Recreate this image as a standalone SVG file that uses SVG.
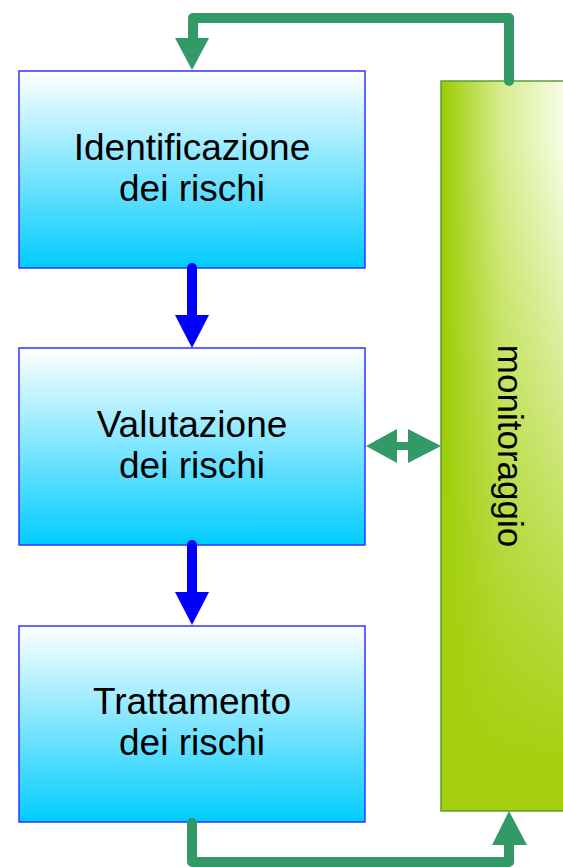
<svg xmlns="http://www.w3.org/2000/svg" width="563" height="867" viewBox="0 0 563 867">
<defs>
<linearGradient id="gBlue" x1="0" y1="0" x2="0" y2="1">
<stop offset="0" stop-color="#ffffff"/>
<stop offset="1" stop-color="#00ccff"/>
</linearGradient>
<linearGradient id="gGreenH" x1="0" y1="0" x2="1" y2="0">
<stop offset="0" stop-color="#99cc00"/>
<stop offset="0.45" stop-color="#d6ec8c"/>
<stop offset="1" stop-color="#fbfff0"/>
</linearGradient>
<linearGradient id="gGreenV" x1="0" y1="0" x2="0" y2="1">
<stop offset="0" stop-color="#a3cf0c" stop-opacity="0"/>
<stop offset="0.08" stop-color="#a3cf0c" stop-opacity="0"/>
<stop offset="0.95" stop-color="#a3cf0c" stop-opacity="1"/>
</linearGradient>
</defs>
<style>
.box { fill: url(#gBlue); stroke: #3333ff; stroke-width: 1.5; }
.lbl { font-family: "Liberation Sans", Arial, sans-serif; font-size: 37px; fill: #000000; text-anchor: middle; }
.vlbl { font-size: 35px; }
.gline { fill: none; stroke: #339966; stroke-width: 10; stroke-linecap: round; stroke-linejoin: round; }
.bline { fill: none; stroke: #0000ff; stroke-width: 10; stroke-linecap: round; }
.ghead { fill: #339966; }
.bhead { fill: #0000ff; }
</style>

<g id="monitoraggio">
<rect x="441" y="81" width="130" height="730" fill="url(#gGreenH)"/>
<rect x="441" y="81" width="130" height="730" fill="url(#gGreenV)" stroke="#5a9e3a" stroke-width="1.5"/>
<text class="lbl vlbl" transform="translate(498,446) rotate(90)" x="0" y="0">monitoraggio</text>
</g>

<g id="identificazione">
<rect class="box" x="19" y="71" width="346" height="197"/>
<text class="lbl" x="192" y="160">Identificazione</text>
<text class="lbl" x="192" y="201">dei rischi</text>
</g>

<g id="valutazione">
<rect class="box" x="19" y="348" width="346" height="197"/>
<text class="lbl" x="192" y="437">Valutazione</text>
<text class="lbl" x="192" y="478">dei rischi</text>
</g>

<g id="trattamento">
<rect class="box" x="19" y="626" width="346" height="196"/>
<text class="lbl" x="192" y="714">Trattamento</text>
<text class="lbl" x="192" y="755">dei rischi</text>
</g>

<g id="connectors">
<line class="bline" x1="192" y1="268" x2="192" y2="316"/>
<polygon class="bhead" points="175,315 209,315 192,348"/>
<line class="bline" x1="192" y1="545" x2="192" y2="593"/>
<polygon class="bhead" points="175,592 209,592 192,625"/>
<polyline class="gline" points="509,81 509,18 193,18 193,40"/>
<polygon class="ghead" points="175,38 209,38 192,70"/>
<polyline class="gline" points="192,823 192,862 509,862 509,845"/>
<polygon class="ghead" points="492,845 527,845 509,811"/>
<polygon class="ghead" points="366,446 397,429 397,442 408,442 408,429 441,446 408,463 408,450 397,450 397,463"/>
</g>
</svg>
